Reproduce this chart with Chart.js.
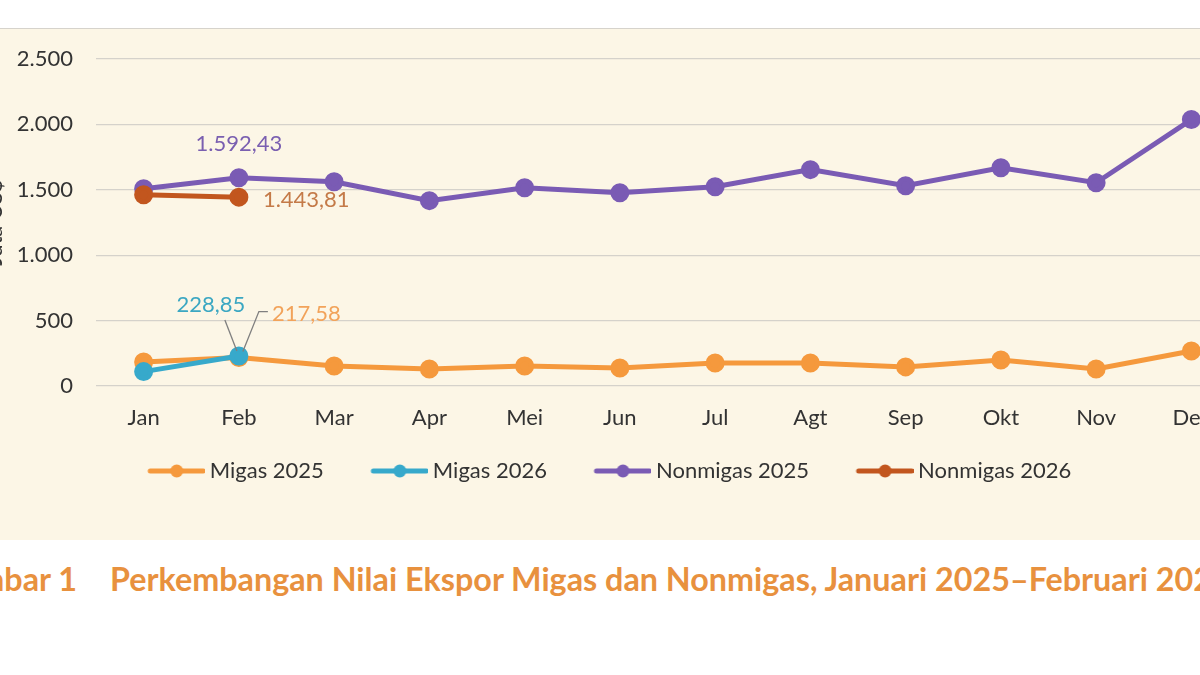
<!DOCTYPE html>
<html>
<head>
<meta charset="utf-8">
<script src="https://cdn.jsdelivr.net/npm/chart.js@4.4.1/dist/chart.umd.min.js"></script>
<style>
  html, body { margin:0; padding:0; background:#ffffff; width:1200px; height:675px; overflow:hidden; position:relative; font-family: Lato, "Open Sans", sans-serif; }
  #panel { position:absolute; left:0; top:28px; width:1200px; height:512px; background:#FCF6E6; border-top:1px solid #D6D3CC; box-sizing:border-box; overflow:hidden; }
  #c { position:absolute; left:-20px; top:-1px; }
  .cap { position:absolute; top:557px; font-family: Lato, sans-serif; font-weight:700; font-size:32.3px; color:#E8913E; white-space:nowrap; line-height:44px; }
</style>
</head>
<body>
<div id="panel"><canvas id="c" width="1290" height="512"></canvas></div>
<div class="cap" style="right:1123px;">Gambar 1</div>
<div class="cap" style="left:110px;">Perkembangan Nilai Ekspor Migas dan Nonmigas, Januari 2025–Februari 2026</div>
<script>
// ---- data ----
const months = ['Jan','Feb','Mar','Apr','Mei','Jun','Jul','Agt','Sep','Okt','Nov','Des'];
const migas2025 = [184, 217.58, 153, 130, 153, 138, 176, 176, 146, 199, 130, 268];
const migas2026 = [110, 228.85];
const nonmigas2025 = [1508, 1592.43, 1562, 1417, 1516, 1478, 1524, 1654, 1531, 1669, 1554, 2037];
const nonmigas2026 = [1462, 1443.81];
const yTicks = [0, 500, 1000, 1500, 2000, 2500];
const seriesNames = ['Migas 2025', 'Migas 2026', 'Nonmigas 2025', 'Nonmigas 2026'];
const seriesColors = ['#F5993D', '#37A9CB', '#7A5BB4', '#C2561E'];

const fmt = v => v.toLocaleString('de-DE', {minimumFractionDigits: 0, maximumFractionDigits: 2});
const fmt2 = v => v.toLocaleString('de-DE', {minimumFractionDigits: 2, maximumFractionDigits: 2});

// legend marker: line with a dot, placed at the right end of a wide box
function legendImg(color){
  const c = document.createElement('canvas'); c.width = 101; c.height = 16;
  const g = c.getContext('2d');
  g.strokeStyle = color; g.lineWidth = 5; g.lineCap = 'round';
  g.beginPath(); g.moveTo(46, 8); g.lineTo(99, 8); g.stroke();
  g.fillStyle = color; g.beginPath(); g.arc(72.5, 8, 6.5, 0, Math.PI*2); g.fill();
  return c;
}
const legendImgs = seriesColors.map(legendImg);

const allSeries = [migas2025, migas2026, nonmigas2025, nonmigas2026];
const datasets = allSeries.map((d, i) => ({
  label: seriesNames[i],
  data: d,
  borderColor: seriesColors[i],
  backgroundColor: seriesColors[i],
  pointBackgroundColor: seriesColors[i],
  pointBorderColor: seriesColors[i],
  borderWidth: 5,
  pointRadius: 7,
  pointHoverRadius: 7,
  tension: 0,
  order: 4 - i
}));

const labelPlugin = {
  id: 'valLabels',
  afterDatasetsDraw(chart) {
    const ctx = chart.ctx;
    const p = (di, idx) => chart.getDatasetMeta(di).data[idx];
    ctx.save();
    ctx.font = '22px Lato, sans-serif';
    ctx.textBaseline = 'middle';
    // Nonmigas 2025 Feb
    let pt = p(2, 1);
    ctx.fillStyle = '#7A5FB0'; ctx.textAlign = 'center';
    ctx.fillText(fmt2(nonmigas2025[1]), pt.x, pt.y - 34);
    // Nonmigas 2026 Feb
    pt = p(3, 1);
    ctx.fillStyle = '#C47A48'; ctx.textAlign = 'left';
    ctx.fillText(fmt2(nonmigas2026[1]), pt.x + 24, pt.y + 3);
    // Migas 2026 Feb
    pt = p(1, 1);
    ctx.strokeStyle = '#7f7f7f'; ctx.lineWidth = 1.3;
    ctx.beginPath(); ctx.moveTo(pt.x - 14, pt.y - 36); ctx.lineTo(pt.x - 2, pt.y - 5); ctx.stroke();
    ctx.fillStyle = '#3BA7C2'; ctx.textAlign = 'center';
    ctx.fillText(fmt2(migas2026[1]), pt.x - 28, pt.y - 51);
    // Migas 2025 Feb
    pt = p(0, 1);
    ctx.beginPath(); ctx.moveTo(pt.x + 29, pt.y - 46); ctx.lineTo(pt.x + 20, pt.y - 46); ctx.lineTo(pt.x + 4, pt.y - 6); ctx.stroke();
    ctx.fillStyle = '#F2A35A'; ctx.textAlign = 'left';
    ctx.fillText(fmt2(migas2025[1]), pt.x + 33, pt.y - 44);
    ctx.restore();
  }
};

new Chart(document.getElementById('c'), {
  type: 'line',
  data: { labels: months, datasets },
  options: {
    responsive: false,
    animation: false,
    events: [],
    layout: { padding: { top: 31, right: 31, bottom: 48, left: -37 } },
    plugins: {
      tooltip: { enabled: false },
      legend: {
        position: 'bottom',
        labels: {
          usePointStyle: true,
          pointStyleWidth: 88,
          padding: 10,
          color: '#333333',
          font: { family: 'Lato, sans-serif', size: 22 },
          generateLabels(chart) {
            return chart.data.datasets.map((ds, i) => ({
              text: ds.label,
              fillStyle: ds.borderColor,
              strokeStyle: ds.borderColor,
              lineWidth: 0,
              pointStyle: legendImgs[i],
              datasetIndex: i,
              hidden: false,
              fontColor: '#333333'
            }));
          }
        }
      }
    },
    scales: {
      x: {
        type: 'category',
        offset: true,
        grid: { display: false, drawTicks: false },
        border: { display: false },
        ticks: { color: '#333333', font: { family: 'Lato, sans-serif', size: 22 }, padding: 19, maxRotation: 0, autoSkip: false },
        afterFit(s) { s.height = 64; s.paddingLeft = 0; s.paddingRight = 0; }
      },
      y: {
        min: 0, max: 2500,
        afterBuildTicks(s) { s.ticks = yTicks.map(v => ({ value: v })); },
        grid: { color: '#D5D2CB', lineWidth: 1.2, drawTicks: false },
        border: { display: false },
        ticks: { color: '#333333', font: { family: 'Lato, sans-serif', size: 22 }, padding: 23, callback: v => fmt(v) },
        title: { display: true, text: 'Juta US$', color: '#333333', font: { family: 'Lato, sans-serif', size: 22 }, padding: { top: 39, bottom: 0 } },
        afterFit(s) { s.width = 153; s.paddingTop = 0; s.paddingBottom = 0; }
      }
    }
  },
  plugins: [labelPlugin]
});
</script>
</body>
</html>
